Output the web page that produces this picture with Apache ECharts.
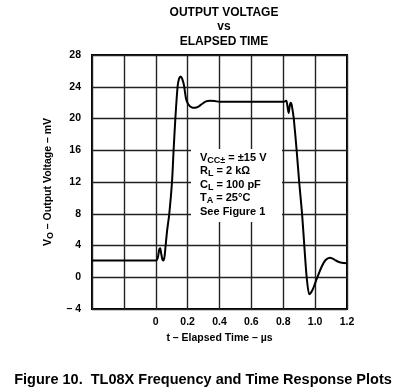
<!DOCTYPE html>
<html>
<head>
<meta charset="utf-8">
<script src="https://cdn.jsdelivr.net/npm/echarts@6/dist/echarts.min.js"></script>
<style>
html,body{margin:0;padding:0;background:#fff;}
#chart{width:406px;height:388px;}
</style>
</head>
<body>
<div id="chart"></div>
<script>
// Elapsed time (µs)
var timeUs = [-0.4, -0.2, 0.0, 0.012, 0.022, 0.028, 0.034, 0.042, 0.048, 0.055, 0.062, 0.072, 0.085, 0.102, 0.112, 0.123, 0.137, 0.146, 0.156, 0.166, 0.177, 0.19, 0.204, 0.225, 0.246, 0.268, 0.288, 0.315, 0.34, 0.37, 0.4, 0.6, 0.8, 0.812, 0.82, 0.828, 0.834, 0.84, 0.846, 0.852, 0.859, 0.866, 0.884, 0.9, 0.918, 0.932, 0.947, 0.963, 0.975, 0.988, 1.003, 1.02, 1.041, 1.066, 1.093, 1.11, 1.125, 1.145, 1.167, 1.2];
// Output voltage (mV)
var voltageMv = [2.1, 2.1, 2.1, 2.4, 3.5, 3.65, 3.0, 2.2, 2.1, 2.6, 4.0, 6.0, 8.0, 12.0, 16.0, 20.0, 24.0, 25.0, 25.3, 25.0, 24.2, 22.5, 21.8, 21.4, 21.35, 21.5, 21.8, 22.15, 22.25, 22.2, 22.1, 22.1, 22.1, 22.15, 22.25, 21.3, 20.7, 21.5, 22.0, 21.8, 21.0, 20.0, 16.0, 12.0, 8.0, 4.0, 0.0, -2.15, -1.9, -1.4, -0.57, 0.3, 1.33, 2.17, 2.47, 2.35, 2.17, 1.95, 1.84, 1.75];

var yTickValues = [-4, 0, 4, 8, 12, 16, 20, 24, 28];
var yTickLabels = ['\u2013 4', '0', '4', '8', '12', '16', '20', '24', '28'];
var xTickValues = [-0.4, -0.2, 0, 0.2, 0.4, 0.6, 0.8, 1.0, 1.2];
var xTickLabels = ['', '', '0', '0.2', '0.4', '0.6', '0.8', '1.0', '1.2'];

var FONT = '"Liberation Sans", Arial, Helvetica, sans-serif';

function lookup(values, labels, v) {
  for (var i = 0; i < values.length; i++) {
    if (Math.abs(values[i] - v) < 1e-6) return labels[i];
  }
  return '';
}

var points = timeUs.map(function (t, i) { return [t, voltageMv[i]]; });

var chart = echarts.init(document.getElementById('chart'), null, {renderer: 'canvas'});
chart.setOption({
  animation: false,
  backgroundColor: '#fff',
  title: [{
    text: 'OUTPUT VOLTAGE\nvs\nELAPSED TIME',
    left: 219, top: 0, textAlign: 'center',
    textStyle: {fontFamily: FONT, fontWeight: 'bold', fontSize: 12, lineHeight: 14.5, color: '#000'}
  }, {
    text: 'Figure 10.  TL08X Frequency and Time Response Plots',
    left: 'center', top: 367,
    textStyle: {fontFamily: FONT, fontWeight: 'bold', fontSize: 14.5, color: '#000'}
  }],
  grid: {
    left: 92, right: 59, top: 55, bottom: 79,
    show: true, borderColor: '#000', borderWidth: 2, backgroundColor: '#fff'
  },
  xAxis: {
    type: 'value', min: -0.4, max: 1.2, interval: 0.2,
    name: 't \u2013 Elapsed Time \u2013 \u00b5s',
    nameLocation: 'middle', nameGap: 24,
    nameTextStyle: {fontFamily: FONT, fontWeight: 'bold', fontSize: 10.5, color: '#000'},
    axisLine: {show: false}, axisTick: {show: false},
    axisLabel: {
      margin: 8, fontFamily: FONT, fontWeight: 'bold', fontSize: 10.5, color: '#000',
      formatter: function (v) { return lookup(xTickValues, xTickLabels, v); }
    },
    splitLine: {show: true, lineStyle: {color: '#222', width: 1.4}}
  },
  yAxis: {
    type: 'value', min: -4, max: 28, interval: 4,
    name: '{m|V}{s|O}{m| \u2013 Output Voltage \u2013 mV}',
    nameLocation: 'middle', nameGap: 32, nameRotate: 90,
    nameTextStyle: {
      fontFamily: FONT, fontWeight: 'bold', fontSize: 10.5, color: '#000',
      rich: {
        m: {fontFamily: FONT, fontWeight: 'bold', fontSize: 10.5, color: '#000'},
        s: {fontFamily: FONT, fontWeight: 'bold', fontSize: 9, color: '#000', padding: [6, 0, 0, 0]}
      }
    },
    axisLine: {show: false}, axisTick: {show: false},
    axisLabel: {
      margin: 11, fontFamily: FONT, fontWeight: 'bold', fontSize: 10.5, color: '#000',
      formatter: function (v) { return lookup(yTickValues, yTickLabels, v); }
    },
    splitLine: {show: true, lineStyle: {color: '#222', width: 1.4}}
  },
  graphic: [{
    type: 'rect', z: 1,
    shape: {x: 191, y: 149, width: 91, height: 73},
    style: {fill: '#fff'}
  }, {
    type: 'text', z: 2, left: 200, top: 150,
    style: {
      text: '{m|V}{s|CC\u00b1}{m| = \u00b115 V}\n{m|R}{s|L}{m| = 2 k\u03a9}\n{m|C}{s|L}{m| = 100 pF}\n{m|T}{s|A}{m| = 25\u00b0C}\n{m|See Figure 1}',
      fontFamily: FONT, fontWeight: 'bold', fontSize: 11, fill: '#000',
      rich: {
        m: {fontFamily: FONT, fontWeight: 'bold', fontSize: 11, fill: '#000', lineHeight: 13.5},
        s: {fontFamily: FONT, fontWeight: 'bold', fontSize: 9, fill: '#000', padding: [6, 0, 0, 0], lineHeight: 13.5}
      }
    }
  }],
  series: [{
    type: 'line', data: points, smooth: 0.25, showSymbol: false, z: 3,
    lineStyle: {color: '#000', width: 2}
  }]
});
</script>
</body>
</html>
